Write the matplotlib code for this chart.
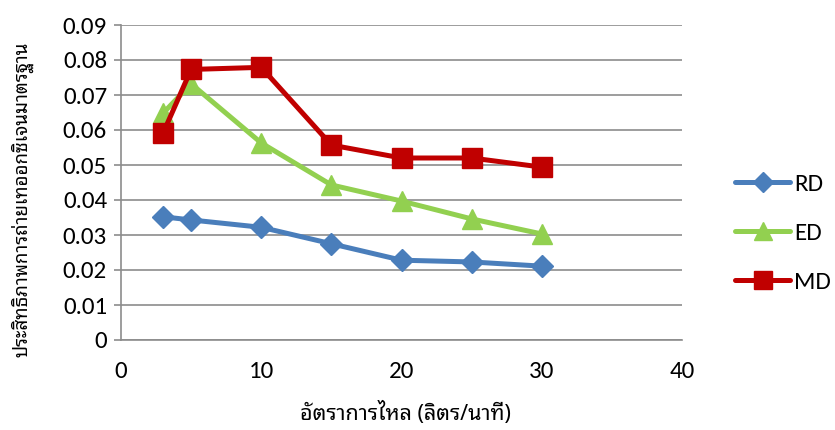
import matplotlib
matplotlib.use("Agg")
import matplotlib.pyplot as plt
from matplotlib.lines import Line2D

flow_rate = [3, 5, 10, 15, 20, 25, 30]
rd_values = [0.0352, 0.0343, 0.0322, 0.0275, 0.0228, 0.0223, 0.0211]
ed_values = [0.0648, 0.0732, 0.0563, 0.0443, 0.0397, 0.0346, 0.0303]
md_values = [0.0591, 0.0773, 0.0779, 0.0557, 0.0520, 0.0520, 0.0494]

series_names = ["RD", "ED", "MD"]
x_label = "อัตราการไหล (ลิตร/นาที)"
y_label = "ประสิทธิภาพการถ่ายเทออกซิเจนมาตรฐาน"

num_font = ["Carlito", "Open Sans", "DejaVu Sans"]
thai_font = ["Noto Sans Thai Looped", "Noto Sans Thai", "DejaVu Sans"]

fig = plt.figure(figsize=(8.35, 4.30), dpi=100)
ax = fig.add_axes([121 / 835, 90 / 430, 561 / 835, 315 / 430])

styles = [
    dict(color="#4A7EBB", marker="D", markersize=11),
    dict(color="#92D050", marker="^", markersize=14),
    dict(color="#C00000", marker="s", markersize=14),
]
for vals, st in zip([rd_values, ed_values, md_values], styles):
    ax.plot(flow_rate, vals, color=st["color"], marker=st["marker"],
            markersize=st["markersize"], linewidth=3.6, zorder=3,
            markerfacecolor=st["color"], markeredgecolor=st["color"],
            solid_capstyle="round", solid_joinstyle="round")

ax.set_xlim(0, 40)
ax.set_ylim(0, 0.09)
ax.set_xticks([0, 10, 20, 30, 40])
ax.set_yticks([i / 100 for i in range(10)])
ax.set_yticklabels(["0"] + [f"{i / 100:.2f}" for i in range(1, 10)])

ax.grid(axis="y", color="#8C8C8C", linewidth=1.2)
ax.set_axisbelow(True)
for s in ["top", "right"]:
    ax.spines[s].set_visible(False)
for s in ["left", "bottom"]:
    ax.spines[s].set_color("#8C8C8C")
    ax.spines[s].set_linewidth(1.2)

ax.tick_params(axis="y", direction="out", length=5, width=1.2, color="#8C8C8C", pad=5)
ax.tick_params(axis="x", direction="out", length=0, pad=15)
for lab in ax.get_xticklabels() + ax.get_yticklabels():
    lab.set_family(num_font)
    lab.set_fontsize(18)

fig.text(405 / 835, 1 - 413 / 430, x_label, ha="center", va="center",
         fontsize=15.5, family=thai_font)
fig.text(22 / 835, 1 - 199 / 430, y_label, ha="center", va="center",
         rotation=90, fontsize=13.5, family=thai_font)

handles = [Line2D([], [], color=st["color"], marker=st["marker"],
                  markersize=st["markersize"] * 0.9, linewidth=3.6,
                  solid_capstyle="round") for st in styles]
leg = fig.legend(handles, series_names, loc="center left",
                 bbox_to_anchor=(735 / 835, 1 - 233 / 430), frameon=False,
                 borderpad=0, borderaxespad=0,
                 handlelength=2.2, handletextpad=0.15, labelspacing=1.1,
                 prop={"family": num_font, "size": 18})

fig.savefig("out.png", dpi=100)
